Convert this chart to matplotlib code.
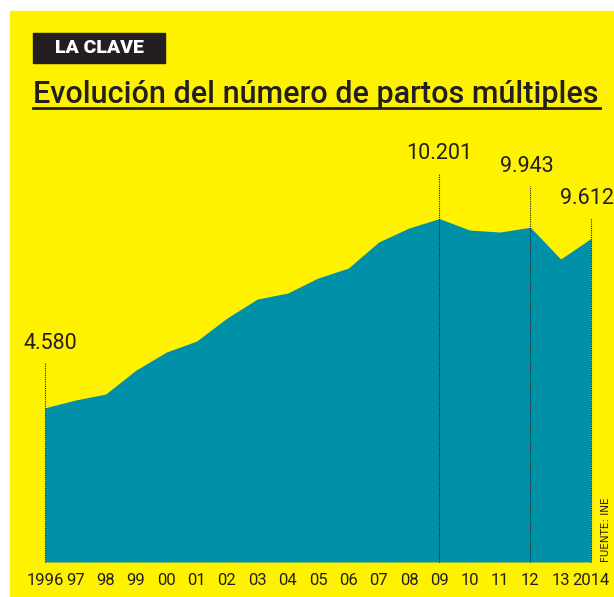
import numpy as np
import matplotlib.pyplot as plt
from matplotlib.patches import Rectangle

years = list(range(1996, 2015))
partos = [4580, 4810, 4988, 5701, 6236, 6563, 7246, 7810, 7989, 8434,
          8731, 9504, 9920, 10201, 9860, 9801, 9943, 8999, 9612]
tick_labels = ['1996', '97', '98', '99', '00', '01', '02', '03', '04', '05',
               '06', '07', '08', '09', '10', '11', '12', '13', '2014']
marked_years = [1996, 2009, 2012, 2014]
marked_labels = ['4.580', '10.201', '9.943', '9.612']

YELLOW = '#FFF200'
TEAL = '#0091A9'
DARK = '#231F20'

W, H = 614, 597
fig = plt.figure(figsize=(W / 100, H / 100), dpi=100, facecolor='white')

# yellow panel
fig.patches.append(Rectangle((10 / W, 0), 1 - 10 / W, 1 - 11 / H,
                             transform=fig.transFigure, color=YELLOW, zorder=-5))

# "LA CLAVE" tag
fig.patches.append(Rectangle((33 / W, 1 - 63 / H), 132 / W, 30 / H,
                             transform=fig.transFigure, color=DARK, zorder=-4))
fig.text(99 / W, 1 - 48 / H, 'LA CLAVE', color='white', fontsize=14,
         fontweight='black', ha='center', va='center', family='Roboto')

# title + underline
fig.text(33 / W, 1 - 103 / H, 'Evolución del número de partos múltiples',
         color=DARK, fontsize=22, fontweight='medium', ha='left', va='baseline',
         family='Roboto')
fig.add_artist(plt.Line2D([33 / W, 600 / W], [1 - 108 / H, 1 - 108 / H],
                          transform=fig.transFigure, color=DARK, lw=2))

# chart
ax = fig.add_axes([45 / W, 35 / H, 546 / W, 404 / H])
ax.set_facecolor('none')
ax.fill_between(years, partos, 0, color=TEAL, lw=0)
ax.set_xlim(1996, 2014)
ax.set_ylim(0, 12000)
for s in ax.spines.values():
    s.set_visible(False)
ax.set_yticks([])
ax.set_xticks(years)
ax.set_xticklabels(tick_labels, fontsize=12, color=DARK, family='Roboto')
ax.tick_params(axis='x', length=0, pad=8)

# dotted markers with value labels
px = 404 / 12000  # pixels per unit
extra_px = [45, 46, 41, 20]
label_dx = [0.18, 0, -0.1, -0.13]
for yr, lab, ex, dx in zip(marked_years, marked_labels, extra_px, label_dx):
    v = partos[years.index(yr)]
    top = v + ex / px
    ax.plot([yr, yr], [0, top], color=DARK, lw=0.8, ls=(0, (1, 1)), clip_on=False)
    ax.text(yr + dx, top + 9 / px, lab, fontsize=15.5, color=DARK, ha='center',
            va='bottom', family='Roboto', clip_on=False)

fig.text(606 / W, 35 / H, 'FUENTE: INE', rotation=90, fontsize=7.5, color=DARK,
         ha='center', va='bottom')

fig.savefig('out.png', dpi=100, facecolor='white')
